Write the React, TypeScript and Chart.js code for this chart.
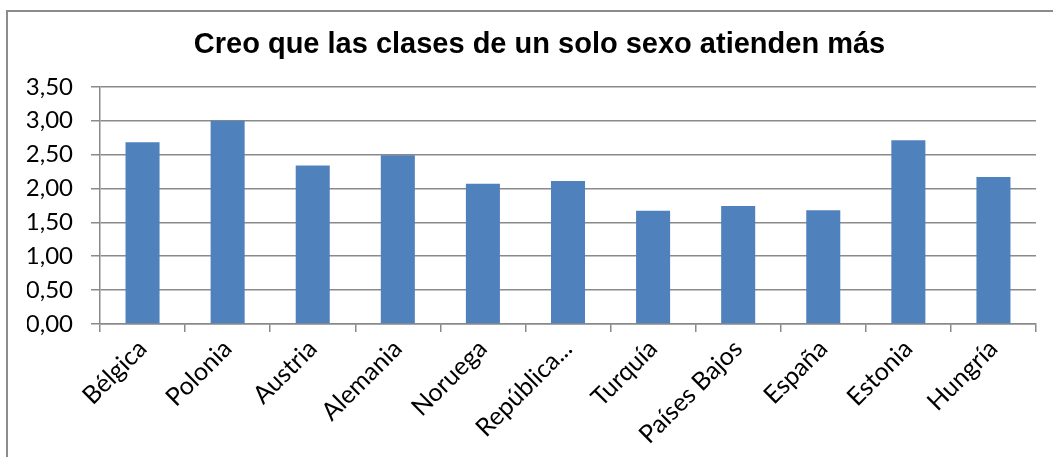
import React, { useEffect, useRef } from "react";
import { Chart, registerables } from "chart.js";

Chart.register(...registerables);

const TITLE = "Creo que las clases de un solo sexo atienden más";
const CATEGORIES = [
  "Bélgica",
  "Polonia",
  "Austria",
  "Alemania",
  "Noruega",
  "República...",
  "Turquía",
  "Países Bajos",
  "España",
  "Estonia",
  "Hungría",
];
const VALUES = [2.68, 3.0, 2.34, 2.49, 2.07, 2.11, 1.67, 1.74, 1.68, 2.71, 2.17];
const Y_MIN = 0;
const Y_MAX = 3.5;
const Y_STEP = 0.5;

const formatTick = (v: number) => v.toFixed(2).replace(".", ",");

const titleShift = {
  id: "titleShift",
  afterLayout(chart: any) {
    const t = chart.titleBlock;
    if (t) {
      t.left = 43;
      t.right = 1036;
    }
  },
};

export default function App() {
  const canvasRef = useRef<HTMLCanvasElement | null>(null);

  useEffect(() => {
    if (!canvasRef.current) return;
    const chart = new Chart(canvasRef.current, {
      type: "bar",
      data: {
        labels: CATEGORIES,
        datasets: [
          {
            data: VALUES,
            backgroundColor: "#4F81BD",
            borderWidth: 0,
            categoryPercentage: 1,
            barPercentage: 0.4,
          },
        ],
      },
      plugins: [titleShift],
      options: {
        responsive: false,
        animation: false,
        devicePixelRatio: 1,
        layout: { padding: { left: 27, right: 17, top: 0, bottom: 0 } },
        plugins: {
          legend: { display: false },
          tooltip: { enabled: false },
          title: {
            display: true,
            text: TITLE,
            color: "#000000",
            font: { family: "'Liberation Sans', Arial, sans-serif", size: 29, weight: "bold" },
            padding: { top: 28, bottom: 24 },
          },
        },
        scales: {
          x: {
            grid: {
              display: true,
              drawOnChartArea: false,
              drawTicks: true,
              tickLength: 8,
              color: "#8a8a8a",
              lineWidth: 1.5,
            },
            border: { display: true, color: "#8a8a8a", width: 1.5 },
            ticks: {
              color: "#000000",
              font: { family: "Lato, 'Open Sans', sans-serif", size: 25 },
              minRotation: 45,
              maxRotation: 45,
              autoSkip: false,
              padding: 2,
            },
            afterFit: (scale: any) => {
              scale.height = 133;
            },
          },
          y: {
            min: Y_MIN,
            max: Y_MAX,
            grid: {
              color: "#8a8a8a",
              lineWidth: 1.5,
              tickLength: 9,
            },
            border: { display: true, color: "#8a8a8a", width: 1.5 },
            ticks: {
              stepSize: Y_STEP,
              color: "#000000",
              padding: 18,
              font: { family: "Lato, 'Open Sans', sans-serif", size: 24 },
              callback: (v: any) => formatTick(Number(v)),
            },
            afterFit: (scale: any) => {
              scale.width = 73;
            },
          },
        },
      },
    });
    return () => chart.destroy();
  }, []);

  return (
    <div style={{ position: "absolute", left: 0, top: 0, width: 1053, height: 457, overflow: "hidden", background: "#ffffff" }}>
      <div
        style={{
          position: "absolute",
          left: 6,
          top: 10,
          width: 1100,
          height: 500,
          border: "2px solid #8c8c8c",
          boxSizing: "border-box",
        }}
      />
      <canvas
        ref={canvasRef}
        width={1053}
        height={457}
        style={{ position: "absolute", left: 0, top: 0, width: 1053, height: 457 }}
      />
    </div>
  );
}
